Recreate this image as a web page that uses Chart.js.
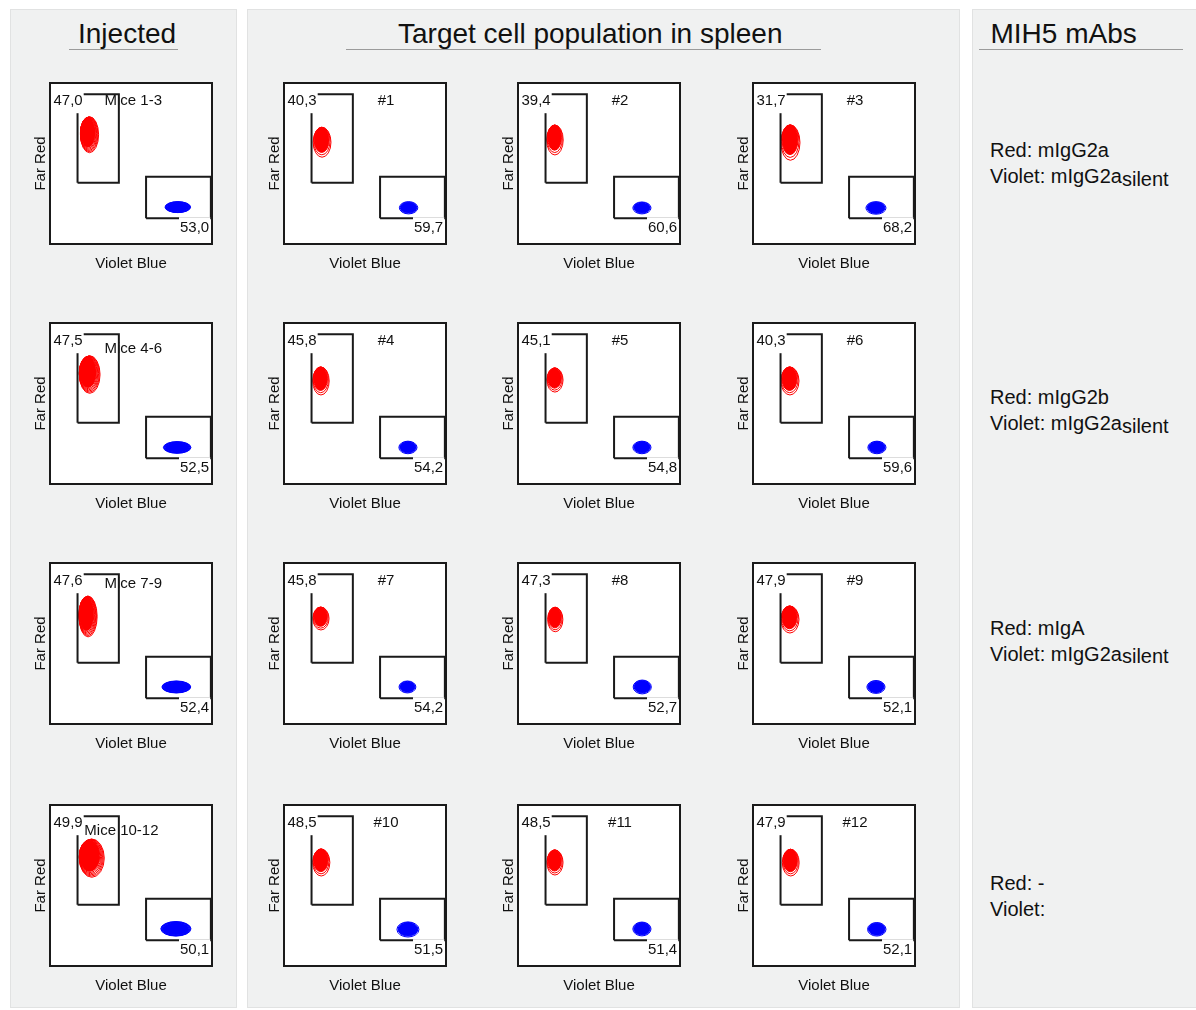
<!DOCTYPE html>
<html>
<head>
<meta charset="utf-8">
<script src="https://cdn.jsdelivr.net/npm/chart.js@4.4.1/dist/chart.umd.min.js"></script>
<style>
  html, body { margin: 0; padding: 0; background: #fff; }
  body { width: 1196px; height: 1010px; position: relative; overflow: hidden;
         font-family: 'Liberation Sans', Arial, Helvetica, sans-serif; color: #111; }
  .panel { position: absolute; top: 9px; height: 999px; background: #f0f1f1;
           border: 1px solid #e1e2e2; box-sizing: border-box; }
  .head { position: absolute; top: 20px; font-size: 28px; line-height: 28px; white-space: nowrap; }
  .rule { position: absolute; top: 49px; height: 1px; background: #9b9b9b; }
  .ab { position: absolute; left: 990px; font-size: 20px; line-height: 26px; white-space: nowrap; }
  .sub { position: relative; top: 2.5px; }
  canvas { position: absolute; }
</style>
</head>
<body>
<div class="panel" style="left:10px;width:227px"></div>
<div class="panel" style="left:247px;width:713px"></div>
<div class="panel" style="left:972px;width:240px"></div>
<div id="heads"></div>
<div id="plots"></div>
<div id="abs"></div>
<script>
// ---- figure data -------------------------------------------------------
const columnTitles = ['Injected', 'Target cell population in spleen', 'MIH5 mAbs'];
const axisTitleX = 'Violet Blue';
const axisTitleY = 'Far Red';
const miceGroups = ['Mice 1-3', 'Mice 4-6', 'Mice 7-9', 'Mice 10-12'];
const mouseIds = [['#1', '#2', '#3'], ['#4', '#5', '#6'], ['#7', '#8', '#9'], ['#10', '#11', '#12']];

// gate frequencies (%), columns: injected, then three recipient mice
const redGatePct  = [[47.0, 40.3, 39.4, 31.7], [47.5, 45.8, 45.1, 40.3], [47.6, 45.8, 47.3, 47.9], [49.9, 48.5, 48.5, 47.9]];
const blueGatePct = [[53.0, 59.7, 60.6, 68.2], [52.5, 54.2, 54.8, 59.6], [52.4, 54.2, 52.7, 52.1], [50.1, 51.5, 51.4, 52.1]];

// antibody used per row
const redAntibody    = ['mIgG2a', 'mIgG2b', 'mIgA', '-'];
const violetAntibody = ['mIgG2a', 'mIgG2a', 'mIgG2a', ''];
const violetSuffix   = ['silent', 'silent', 'silent', ''];

// gates in channel units (0-100): [xMin, xMax, yMin, yMax]
const redGate  = [17.0, 42.5, 38.0, 93.0];
const blueGate = [59.3, 99.3, 16.0, 41.8];

// population contours: centre and half-extent in channel units
const redCenterX  = [[24.4, 23.5, 22.8, 23.1], [24.5, 22.8, 22.8, 22.8], [23.5, 22.8, 23.0, 22.8], [25.8, 23.0, 22.8, 23.3]];
const redCenterY  = [[67.9, 63.2, 64.6, 63.0], [68.0, 64.0, 64.6, 64.0], [66.8, 65.5, 64.9, 64.9], [67.0, 64.3, 64.3, 64.2]];
const redSpreadX  = [[5.6, 5.5, 5.1, 5.9], [6.4, 5.1, 5.0, 5.6], [5.6, 5.0, 4.7, 5.6], [7.7, 5.3, 5.0, 5.2]];
const redSpreadY  = [[11.2, 9.3, 9.3, 11.0], [11.7, 8.7, 7.5, 8.7], [12.7, 7.1, 7.6, 8.4], [11.9, 8.4, 7.8, 8.3]];
const blueCenterX = [[78.9, 76.9, 76.5, 75.9], [78.5, 76.5, 76.5, 76.5], [78.0, 76.2, 76.7, 75.9], [77.7, 76.5, 76.5, 76.4]];
const blueCenterY = [[22.9, 22.5, 22.4, 22.4], [22.7, 22.7, 22.7, 22.7], [23.0, 23.0, 23.0, 23.0], [23.1, 22.7, 23.0, 22.8]];
const blueSpreadX = [[7.9, 5.7, 5.6, 6.2], [8.5, 5.6, 5.6, 5.6], [8.9, 5.2, 5.6, 5.6], [9.3, 6.8, 5.6, 5.7]];
const blueSpreadY = [[3.4, 3.8, 3.7, 3.9], [3.6, 3.9, 3.9, 3.9], [3.7, 3.7, 4.3, 4.0], [4.5, 4.7, 4.3, 4.2]];

// ---- layout & style ----------------------------------------------------
const FONT = "'Liberation Sans', Arial, Helvetica, sans-serif";
const INK = '#111';
const LINE = '#1a1a1a';
const RED = '#ff0000';
const BLUE = '#0000ff';
const boxLeft = [50, 284, 518, 753];
const boxTop = [83, 323, 563, 805];
const BOX_W = 162, BOX_H = 161;
const PAD_L = 30, PAD_T = 5, PAD_R = 10, PAD_B = 35;
const miceLabelPos = [[54.5, 17.7], [54.5, 26], [54.5, 21], [34.3, 25.7]];

const contourStyle = {
  injRed:  { rings: 6, s0: 0.82, ax: 1.0, ay: 0.7 },
  tgtRed:  { rings: 3, s0: 0.84, ax: 0.3, ay: 1.0 },
  injBlue: { rings: 5, s0: 0.86, ax: 0.0, ay: 0.0 },
  tgtBlue: { rings: 2, s0: 0.90, ax: 0.0, ay: 0.3 }
};

Chart.defaults.font.family = FONT;
Chart.defaults.color = INK;

const fmt = v => v.toFixed(1).replace('.', ',');

// headers
const heads = document.getElementById('heads');
[[columnTitles[0], 78, 69, 109], [columnTitles[1], 398, 346, 475], [columnTitles[2], 990.5, 979, 204]]
  .forEach(([txt, tx, rx, rw]) => {
    const h = document.createElement('div');
    h.className = 'head'; h.style.left = tx + 'px'; h.textContent = txt;
    heads.appendChild(h);
    const r = document.createElement('div');
    r.className = 'rule'; r.style.left = rx + 'px'; r.style.width = rw + 'px';
    heads.appendChild(r);
  });

// antibody legend per row
const abTops = [137, 384, 614.6, 869.5];
const abs = document.getElementById('abs');
redAntibody.forEach((ab, r) => {
  const d = document.createElement('div');
  d.className = 'ab'; d.style.top = abTops[r] + 'px';
  const l1 = document.createElement('div'); l1.textContent = 'Red: ' + ab;
  const l2 = document.createElement('div'); l2.textContent = 'Violet: ' + violetAntibody[r];
  if (violetSuffix[r]) {
    const s = document.createElement('span'); s.className = 'sub'; s.textContent = violetSuffix[r];
    l2.appendChild(s);
  }
  d.appendChild(l1); d.appendChild(l2);
  abs.appendChild(d);
});

function gateOutline(g) {
  return [{ x: g[0], y: g[2] }, { x: g[1], y: g[2] }, { x: g[1], y: g[3] }, { x: g[0], y: g[3] }, { x: g[0], y: g[2] }];
}

function drawText(ctx, text, x, y, align, bg) {
  ctx.font = '15px ' + FONT;
  ctx.textAlign = align;
  ctx.textBaseline = 'middle';
  const w = ctx.measureText(text).width;
  if (bg) {
    const x0 = align === 'right' ? x - w : (align === 'center' ? x - w / 2 : x);
    ctx.fillStyle = '#fff';
    ctx.fillRect(x0 - 1, y - bg[0], w + 2, bg[0] + bg[1]);
  }
  ctx.fillStyle = INK;
  ctx.fillText(text, x, y);
}

function makePanel(r, c) {
  const inj = c === 0;
  const pops = [
    Object.assign({ mx: redCenterX[r][c], my: redCenterY[r][c], hx: redSpreadX[r][c], hy: redSpreadY[r][c], color: RED },
                  inj ? contourStyle.injRed : contourStyle.tgtRed),
    Object.assign({ mx: blueCenterX[r][c], my: blueCenterY[r][c], hx: blueSpreadX[r][c], hy: blueSpreadY[r][c], color: BLUE },
                  inj ? contourStyle.injBlue : contourStyle.tgtBlue)
  ];

  const panelPlugin = {
    id: 'flowPanel',
    beforeDatasetsDraw(chart) {
      const { ctx, chartArea: a, scales: { x, y } } = chart;
      ctx.save();
      ctx.fillStyle = '#fff';
      ctx.fillRect(a.left, a.top, a.right - a.left, a.bottom - a.top);
      ctx.beginPath(); ctx.rect(a.left, a.top, a.right - a.left, a.bottom - a.top); ctx.clip();
      // density contours, outer rings first, core filled
      pops.forEach(p => {
        const px = x.getPixelForValue(p.mx), py = y.getPixelForValue(p.my);
        const rx = Math.abs(x.getPixelForValue(p.mx + p.hx) - px);
        const ry = Math.abs(y.getPixelForValue(p.my + p.hy) - py);
        for (let i = p.rings - 1; i >= 0; i--) {
          const t = p.rings > 1 ? i / (p.rings - 1) : 0;
          const s = p.s0 + (1 - p.s0) * t;
          const cx = px - (1 - s) * rx * p.ax;
          const cy = py - (1 - s) * ry * p.ay;
          ctx.beginPath();
          ctx.ellipse(cx, cy, s * rx, s * ry, 0, 0, Math.PI * 2);
          if (i === 0) { ctx.fillStyle = p.color; ctx.fill(); }
          ctx.strokeStyle = p.color; ctx.lineWidth = 1; ctx.stroke();
        }
      });
      // sample label sits under the gate lines
      if (inj) drawText(ctx, miceGroups[r], a.left + miceLabelPos[r][0], a.top + miceLabelPos[r][1], 'left', null);
      else drawText(ctx, mouseIds[r][c - 1], a.left + 102, a.top + 17.7, 'center', null);
      ctx.restore();
    },
    afterDatasetsDraw(chart) {
      const { ctx, chartArea: a } = chart;
      ctx.save();
      drawText(ctx, fmt(redGatePct[r][c]), a.left + 3.5, a.top + 17.7, 'left', [9.5, 12.5]);
      drawText(ctx, fmt(blueGatePct[r][c]), a.right - 2.8, a.bottom - 16.3, 'right', [10.5, 10.5]);
      ctx.lineWidth = 2;
      ctx.strokeStyle = LINE;
      ctx.strokeRect(a.left, a.top, a.right - a.left, a.bottom - a.top);
      ctx.restore();
    }
  };

  const cv = document.createElement('canvas');
  const W = PAD_L + BOX_W + PAD_R, H = PAD_T + BOX_H + PAD_B;
  cv.width = W; cv.height = H;
  cv.style.left = (boxLeft[c] - PAD_L) + 'px';
  cv.style.top = (boxTop[r] - PAD_T) + 'px';
  cv.style.width = W + 'px'; cv.style.height = H + 'px';
  document.getElementById('plots').appendChild(cv);

  const gateStyle = { showLine: true, borderColor: LINE, borderWidth: 2, pointRadius: 0, pointHoverRadius: 0, tension: 0, fill: false };

  new Chart(cv, {
    type: 'scatter',
    data: {
      datasets: [
        Object.assign({ label: 'Far Red gate', data: gateOutline(redGate) }, gateStyle),
        Object.assign({ label: 'Violet Blue gate', data: gateOutline(blueGate) }, gateStyle)
      ]
    },
    options: {
      responsive: false,
      animation: false,
      devicePixelRatio: 1,
      events: [],
      layout: { autoPadding: false, padding: { left: PAD_L - 18, top: PAD_T, right: PAD_R, bottom: PAD_B - 29 } },
      plugins: { legend: { display: false }, tooltip: { enabled: false } },
      scales: {
        x: {
          type: 'linear', min: 0, max: 100, position: 'bottom',
          grid: { display: false, drawTicks: false }, border: { display: false }, ticks: { display: false },
          title: { display: true, text: axisTitleX, color: INK, font: { size: 15, family: FONT }, padding: { top: 11, bottom: 0 } },
          afterFit: s => { s.height = 29; }
        },
        y: {
          type: 'linear', min: 0, max: 100, position: 'left',
          grid: { display: false, drawTicks: false }, border: { display: false }, ticks: { display: false },
          title: { display: true, text: axisTitleY, color: INK, font: { size: 15, family: FONT }, padding: { top: 0, bottom: 0 } },
          afterFit: s => { s.width = 18; }
        }
      }
    },
    plugins: [panelPlugin]
  });
}

for (let r = 0; r < 4; r++) for (let c = 0; c < 4; c++) makePanel(r, c);
</script>
</body>
</html>
